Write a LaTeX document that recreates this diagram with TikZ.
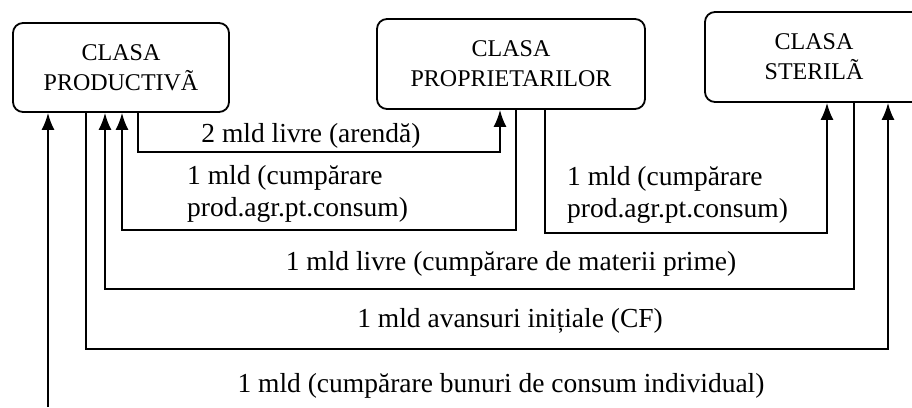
\documentclass[tikz,border=0pt]{standalone}
\usepackage{fontspec}
\setmainfont{Liberation Serif}
\usepackage{tikz}
\usetikzlibrary{arrows.meta}
\tikzstyle{classbox}=[draw=black,line width=1.8pt,rounded corners=10pt,
                      align=center,inner sep=0pt,
                      font=\fontsize{24}{30}\selectfont]
\tikzstyle{flowline}=[line width=1.8pt]
\tikzstyle{flowarrow}=[line width=1.8pt,-{Latex[length=17pt,width=13pt]}]
\tikzstyle{flowlabel}=[inner sep=0pt,font=\fontsize{27.5}{32}\selectfont]

\begin{document}
\begin{tikzpicture}[x=1pt,y=-1pt]
    \path[use as bounding box] (0,0) rectangle (912,407);
    \clip (0,0) rectangle (912,407);
    \node (k1) at (121,67.5) [classbox,minimum width=216pt,minimum height=89pt]{CLASA\\PRODUCTIVÃ};
    \node (k2) at (511,64)   [classbox,minimum width=268pt,minimum height=90pt]{CLASA\\PROPRIETARILOR};
    \node (k3) at (814,57)   [classbox,minimum width=218pt,minimum height=90pt]{CLASA\\STERILÃ};
    \coordinate (b0) at (48,407);
    \draw[flowarrow] ([xshift=17pt]k1.south) -- ++(0,39) -| ([xshift=-11pt]k2.south);
    \draw[flowarrow] ([xshift=5pt]k2.south) -- ++(0,120) -| ([xshift=1pt]k1.south);
    \draw[flowarrow] ([xshift=34pt]k2.south) -- ++(0,123) -| ([xshift=13pt]k3.south);
    \draw[flowarrow] ([xshift=40pt]k3.south) -- ++(0,186) -| ([xshift=-16pt]k1.south);
    \draw[flowarrow] ([xshift=-35pt]k1.south) -- ++(0,236) -| ([xshift=74pt]k3.south);
    \draw[flowarrow] (b0) -- ([xshift=-73pt]k1.south);
    \node (t1) at (311,142) [flowlabel,anchor=base]{2 mld livre (arendă)};
    \node (t2) at (187,193.5) [flowlabel,anchor=west,align=left]{1 mld (cumpărare\\prod.agr.pt.consum)};
    \node (t3) at (567,195) [flowlabel,anchor=west,align=left]{1 mld (cumpărare\\prod.agr.pt.consum)};
    \node (t4) at (511,270) [flowlabel,anchor=base]{1 mld livre (cumpărare de materii prime)};
    \node (t5) at (510,327) [flowlabel,anchor=base]{1 mld avansuri inițiale (CF)};
    \node (t6) at (501,392) [flowlabel,anchor=base]{1 mld (cumpărare bunuri de consum individual)};
\end{tikzpicture}
\end{document}
